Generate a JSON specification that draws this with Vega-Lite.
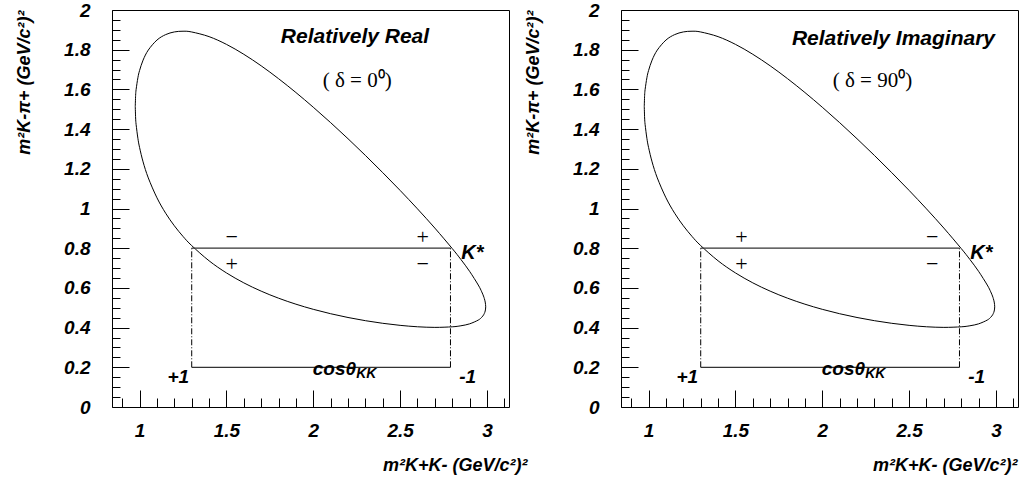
{
  "$schema": "https://vega.github.io/schema/vega-lite/v6.json",
  "padding": {"left": 15, "top": 0, "right": 0, "bottom": 0},
  "background": "white",
  "bounds": "flush",
  "spacing": 112,
  "datasets": {
    "boundary": [
      {"i": 0, "x": 0.975, "y": 1.5137}, {"i": 1, "x": 0.977, "y": 1.5694}, {"i": 2, "x": 0.98, "y": 1.6001},
      {"i": 3, "x": 0.99, "y": 1.6584}, {"i": 4, "x": 1.0, "y": 1.6958}, {"i": 5, "x": 1.02, "y": 1.7475},
      {"i": 6, "x": 1.05, "y": 1.7982}, {"i": 7, "x": 1.1, "y": 1.8487}, {"i": 8, "x": 1.15, "y": 1.8761},
      {"i": 9, "x": 1.2, "y": 1.8895}, {"i": 10, "x": 1.25, "y": 1.8931}, {"i": 11, "x": 1.3, "y": 1.8893},
      {"i": 12, "x": 1.4, "y": 1.8658}, {"i": 13, "x": 1.5, "y": 1.8269}, {"i": 14, "x": 1.6, "y": 1.7769},
      {"i": 15, "x": 1.7, "y": 1.7188}, {"i": 16, "x": 1.8, "y": 1.6541}, {"i": 17, "x": 1.9, "y": 1.5843},
      {"i": 18, "x": 2.0, "y": 1.5102}, {"i": 19, "x": 2.1, "y": 1.4325}, {"i": 20, "x": 2.2, "y": 1.3515},
      {"i": 21, "x": 2.3, "y": 1.2675}, {"i": 22, "x": 2.4, "y": 1.1807}, {"i": 23, "x": 2.5, "y": 1.0911},
      {"i": 24, "x": 2.6, "y": 0.9982}, {"i": 25, "x": 2.7, "y": 0.9013}, {"i": 26, "x": 2.8, "y": 0.7984},
      {"i": 27, "x": 2.85, "y": 0.7432}, {"i": 28, "x": 2.9, "y": 0.6836}, {"i": 29, "x": 2.95, "y": 0.6145},
      {"i": 30, "x": 2.97, "y": 0.5802}, {"i": 31, "x": 2.98, "y": 0.5591}, {"i": 32, "x": 2.985, "y": 0.5461},
      {"i": 33, "x": 2.99, "y": 0.5288}, {"i": 34, "x": 2.9929, "y": 0.5047}, {"i": 35, "x": 2.99, "y": 0.4836},
      {"i": 36, "x": 2.985, "y": 0.4713}, {"i": 37, "x": 2.98, "y": 0.4633}, {"i": 38, "x": 2.97, "y": 0.4521},
      {"i": 39, "x": 2.95, "y": 0.4379}, {"i": 40, "x": 2.9, "y": 0.4188}, {"i": 41, "x": 2.85, "y": 0.4092},
      {"i": 42, "x": 2.8, "y": 0.404}, {"i": 43, "x": 2.7, "y": 0.4011}, {"i": 44, "x": 2.6, "y": 0.4042},
      {"i": 45, "x": 2.5, "y": 0.4113}, {"i": 46, "x": 2.4, "y": 0.4216}, {"i": 47, "x": 2.3, "y": 0.4349},
      {"i": 48, "x": 2.2, "y": 0.4509}, {"i": 49, "x": 2.1, "y": 0.4699}, {"i": 50, "x": 2.0, "y": 0.4921},
      {"i": 51, "x": 1.9, "y": 0.518}, {"i": 52, "x": 1.8, "y": 0.5482}, {"i": 53, "x": 1.7, "y": 0.5836},
      {"i": 54, "x": 1.6, "y": 0.6254}, {"i": 55, "x": 1.5, "y": 0.6755}, {"i": 56, "x": 1.4, "y": 0.7365},
      {"i": 57, "x": 1.3, "y": 0.813}, {"i": 58, "x": 1.25, "y": 0.8593}, {"i": 59, "x": 1.2, "y": 0.9129},
      {"i": 60, "x": 1.15, "y": 0.9762}, {"i": 61, "x": 1.1, "y": 1.0537}, {"i": 62, "x": 1.05, "y": 1.1542},
      {"i": 63, "x": 1.02, "y": 1.2349}, {"i": 64, "x": 1.0, "y": 1.3065}, {"i": 65, "x": 0.99, "y": 1.3539},
      {"i": 66, "x": 0.98, "y": 1.4222}, {"i": 67, "x": 0.977, "y": 1.4559}, {"i": 68, "x": 0.975, "y": 1.5137}
    ],
    "hseg": [{"x": 1.3, "x2": 2.79, "y": 0.8}, {"x": 1.3, "x2": 2.79, "y": 0.2}],
    "vseg": [{"x": 1.3, "y": 0.2, "y2": 0.8}, {"x": 2.79, "y": 0.2, "y2": 0.8}],
    "ends": [
      {"x": 1.223, "y": 0.15, "t": "+1"},
      {"x": 2.889, "y": 0.15, "t": "-1"},
      {"x": 2.122, "y": 0.193, "t": "cosθ"}
    ],
    "sub": [{"x": 2.305, "y": 0.168, "t": "KK"}],
    "kstar": [{"x": 2.852, "y": 0.775, "t": "K*"}],
    "titleReal": [{"x": 2.24, "y": 1.865, "t": "Relatively Real"}],
    "titleImag": [{"x": 2.41, "y": 1.855, "t": "Relatively Imaginary"}],
    "deltaReal": [{"x": 2.253, "y": 1.642, "t": "( δ = 0⁰)"}],
    "deltaImag": [{"x": 2.289, "y": 1.642, "t": "( δ = 90⁰)"}],
    "signsReal": [
      {"x": 1.53, "y": 0.855, "t": "−"}, {"x": 1.53, "y": 0.72, "t": "+"},
      {"x": 2.63, "y": 0.855, "t": "+"}, {"x": 2.63, "y": 0.72, "t": "−"}
    ],
    "signsImag": [
      {"x": 1.534, "y": 0.855, "t": "+"}, {"x": 1.534, "y": 0.72, "t": "+"},
      {"x": 2.633, "y": 0.855, "t": "−"}, {"x": 2.633, "y": 0.72, "t": "−"}
    ]
  },
  "hconcat": [
    {
      "width": 397,
      "height": 397,
      "encoding": {
        "x": {"field": "x", "type": "quantitative",
          "scale": {"domain": [0.841, 3.127], "nice": false, "zero": false},
          "axis": {
            "values": [0.9, 1, 1.1, 1.2, 1.3, 1.4, 1.5, 1.6, 1.7, 1.8, 1.9, 2, 2.1, 2.2, 2.3, 2.4, 2.5, 2.6, 2.7, 2.8, 2.9, 3, 3.1],
            "labelExpr": "abs(datum.value*2-round(datum.value*2))<1e-6 ? format(datum.value,'~g') : ''",
            "offset": -17, "domain": false, "tickSize": 17,
            "tickDash": {"condition": {"test": "abs(datum.value*2-round(datum.value*2))<1e-6", "value": [17, 0]}, "value": [0, 8, 9]},
            "labelPadding": 14,
            "title": "m²K+K- (GeV/c²)²",
            "titleAnchor": "end", "titleAlign": "right", "titleX": 415, "titlePadding": 16
          }
        },
        "y": {"field": "y", "type": "quantitative",
          "scale": {"domain": [0, 2], "nice": false, "zero": false},
          "axis": {
            "values": [0, 0.05, 0.1, 0.15, 0.2, 0.25, 0.3, 0.35, 0.4, 0.45, 0.5, 0.55, 0.6, 0.65, 0.7, 0.75, 0.8, 0.85, 0.9, 0.95, 1, 1.05, 1.1, 1.15, 1.2, 1.25, 1.3, 1.35, 1.4, 1.45, 1.5, 1.55, 1.6, 1.65, 1.7, 1.75, 1.8, 1.85, 1.9, 1.95, 2],
            "labelExpr": "abs(datum.value*5-round(datum.value*5))<1e-6 ? format(datum.value,'~g') : ''",
            "offset": -17, "domain": false, "tickSize": 17,
            "tickDash": {"condition": {"test": "abs(datum.value*5-round(datum.value*5))<1e-6", "value": [17, 0]}, "value": [0, 9, 8]},
            "labelPadding": 22,
            "title": "m²K-π+ (GeV/c²)²",
            "titleAnchor": "end", "titlePadding": 30
          }
        }
      },
      "layer": [
        {"data": {"name": "boundary"}, "mark": {"type": "line", "color": "black", "strokeWidth": 1, "interpolate": "cardinal"},
         "encoding": {"order": {"field": "i", "type": "quantitative"}}},
        {"data": {"name": "hseg"}, "mark": {"type": "rule", "color": "#333333", "strokeWidth": 1.2},
         "encoding": {"x2": {"field": "x2"}}},
        {"data": {"name": "vseg"}, "mark": {"type": "rule", "color": "black", "strokeWidth": 1, "strokeDash": [6, 2, 1, 2]},
         "encoding": {"y2": {"field": "y2"}}},
        {"data": {"name": "ends"}, "mark": {"type": "text", "font": "Liberation Sans", "fontStyle": "italic", "fontWeight": "bold", "fontSize": 19, "color": "black"},
         "encoding": {"text": {"field": "t"}}},
        {"data": {"name": "sub"}, "mark": {"type": "text", "font": "Liberation Sans", "fontStyle": "italic", "fontWeight": "bold", "fontSize": 14, "color": "black"},
         "encoding": {"text": {"field": "t"}}},
        {"data": {"name": "kstar"}, "mark": {"type": "text", "align": "left", "font": "Liberation Sans", "fontStyle": "italic", "fontWeight": "bold", "fontSize": 20, "color": "black"},
         "encoding": {"text": {"field": "t"}}},
        {"data": {"name": "titleReal"}, "mark": {"type": "text", "font": "Liberation Sans", "fontStyle": "italic", "fontWeight": "bold", "fontSize": 21, "color": "black"},
         "encoding": {"text": {"field": "t"}}},
        {"data": {"name": "deltaReal"}, "mark": {"type": "text", "font": "Liberation Serif", "fontSize": 21, "color": "black"},
         "encoding": {"text": {"field": "t"}}},
        {"data": {"name": "signsReal"}, "mark": {"type": "text", "font": "Liberation Serif", "fontSize": 22, "color": "black"},
         "encoding": {"text": {"field": "t"}}}
      ]
    },
    {
      "width": 397,
      "height": 397,
      "encoding": {
        "x": {"field": "x", "type": "quantitative",
          "scale": {"domain": [0.841, 3.127], "nice": false, "zero": false},
          "axis": {
            "values": [0.9, 1, 1.1, 1.2, 1.3, 1.4, 1.5, 1.6, 1.7, 1.8, 1.9, 2, 2.1, 2.2, 2.3, 2.4, 2.5, 2.6, 2.7, 2.8, 2.9, 3, 3.1],
            "labelExpr": "abs(datum.value*2-round(datum.value*2))<1e-6 ? format(datum.value,'~g') : ''",
            "offset": -17, "domain": false, "tickSize": 17,
            "tickDash": {"condition": {"test": "abs(datum.value*2-round(datum.value*2))<1e-6", "value": [17, 0]}, "value": [0, 8, 9]},
            "labelPadding": 14,
            "title": "m²K+K- (GeV/c²)²",
            "titleAnchor": "end", "titleAlign": "right", "titleX": 396, "titlePadding": 16
          }
        },
        "y": {"field": "y", "type": "quantitative",
          "scale": {"domain": [0, 2], "nice": false, "zero": false},
          "axis": {
            "values": [0, 0.05, 0.1, 0.15, 0.2, 0.25, 0.3, 0.35, 0.4, 0.45, 0.5, 0.55, 0.6, 0.65, 0.7, 0.75, 0.8, 0.85, 0.9, 0.95, 1, 1.05, 1.1, 1.15, 1.2, 1.25, 1.3, 1.35, 1.4, 1.45, 1.5, 1.55, 1.6, 1.65, 1.7, 1.75, 1.8, 1.85, 1.9, 1.95, 2],
            "labelExpr": "abs(datum.value*5-round(datum.value*5))<1e-6 ? format(datum.value,'~g') : ''",
            "offset": -17, "domain": false, "tickSize": 17,
            "tickDash": {"condition": {"test": "abs(datum.value*5-round(datum.value*5))<1e-6", "value": [17, 0]}, "value": [0, 9, 8]},
            "labelPadding": 22,
            "title": "m²K-π+ (GeV/c²)²",
            "titleAnchor": "end", "titlePadding": 30
          }
        }
      },
      "layer": [
        {"data": {"name": "boundary"}, "mark": {"type": "line", "color": "black", "strokeWidth": 1, "interpolate": "cardinal"},
         "encoding": {"order": {"field": "i", "type": "quantitative"}}},
        {"data": {"name": "hseg"}, "mark": {"type": "rule", "color": "#333333", "strokeWidth": 1.2},
         "encoding": {"x2": {"field": "x2"}}},
        {"data": {"name": "vseg"}, "mark": {"type": "rule", "color": "black", "strokeWidth": 1, "strokeDash": [6, 2, 1, 2]},
         "encoding": {"y2": {"field": "y2"}}},
        {"data": {"name": "ends"}, "mark": {"type": "text", "font": "Liberation Sans", "fontStyle": "italic", "fontWeight": "bold", "fontSize": 19, "color": "black"},
         "encoding": {"text": {"field": "t"}}},
        {"data": {"name": "sub"}, "mark": {"type": "text", "font": "Liberation Sans", "fontStyle": "italic", "fontWeight": "bold", "fontSize": 14, "color": "black"},
         "encoding": {"text": {"field": "t"}}},
        {"data": {"name": "kstar"}, "mark": {"type": "text", "align": "left", "font": "Liberation Sans", "fontStyle": "italic", "fontWeight": "bold", "fontSize": 20, "color": "black"},
         "encoding": {"text": {"field": "t"}}},
        {"data": {"name": "titleImag"}, "mark": {"type": "text", "font": "Liberation Sans", "fontStyle": "italic", "fontWeight": "bold", "fontSize": 21, "color": "black"},
         "encoding": {"text": {"field": "t"}}},
        {"data": {"name": "deltaImag"}, "mark": {"type": "text", "font": "Liberation Serif", "fontSize": 21, "color": "black"},
         "encoding": {"text": {"field": "t"}}},
        {"data": {"name": "signsImag"}, "mark": {"type": "text", "font": "Liberation Serif", "fontSize": 22, "color": "black"},
         "encoding": {"text": {"field": "t"}}}
      ]
    }
  ],
  "config": {
    "view": {"stroke": "black", "strokeWidth": 1},
    "axis": {
      "grid": false, "domainColor": "black", "domainWidth": 1, "tickColor": "black", "tickWidth": 1,
      "labelColor": "black", "titleColor": "black",
      "labelFont": "Liberation Sans", "labelFontStyle": "italic", "labelFontWeight": "bold", "labelFontSize": 19,
      "titleFont": "Liberation Sans", "titleFontStyle": "italic", "titleFontWeight": "bold", "titleFontSize": 18,
      "labelOverlap": false, "labelFlush": false
    }
  }
}
